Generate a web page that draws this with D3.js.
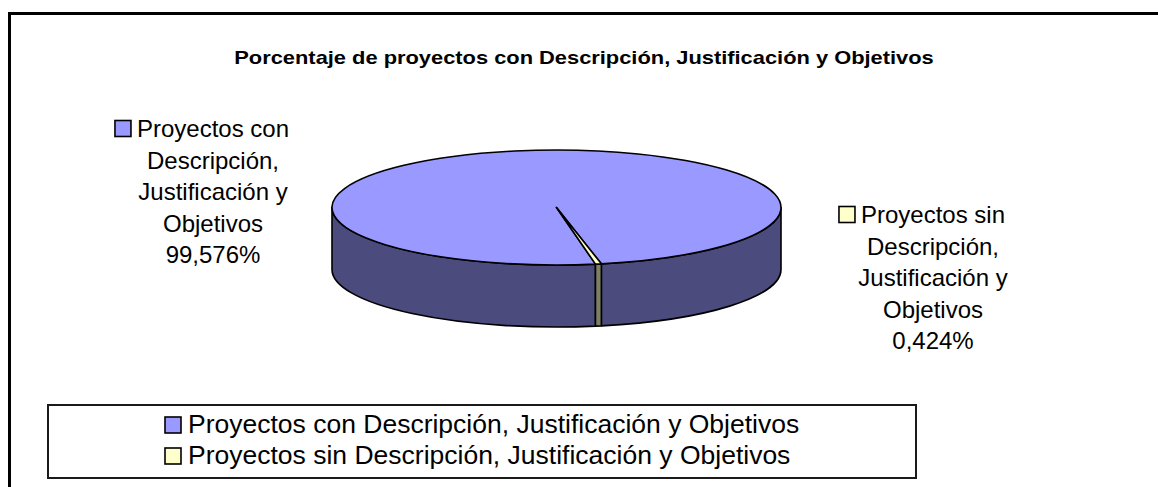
<!DOCTYPE html>
<html>
<head>
<meta charset="utf-8">
<script src="https://cdn.jsdelivr.net/npm/d3@7"></script>
<style>
  body { margin: 0; background: #fff; }
  text { font-family: "Liberation Sans", Arial, sans-serif; fill: #000; }
</style>
</head>
<body>
<div id="chart-area"></div>
<script>
// data
const categories = [
  "Proyectos con Descripción, Justificación y Objetivos",
  "Proyectos sin Descripción, Justificación y Objetivos"
]
const values = [99.576, 0.424]
const topColors = ["#9999FF", "#FFFFCC"]
const sideColors = ["#4b4b7e", "#7f7f66"]
const title = "Porcentaje de proyectos con Descripción, Justificación y Objetivos"

const WIDTH = 1158, HEIGHT = 487

const svg = d3.select("#chart-area").append("svg")
  .attr("width", WIDTH)
  .attr("height", HEIGHT)

// text in the original is drawn a little wider than its height suggests
function stretch(sel, factor) {
  sel.each(function () {
    const len = this.getComputedTextLength()
    d3.select(this)
      .attr("textLength", len * factor)
      .attr("lengthAdjust", "spacingAndGlyphs")
  })
}

// outer frame (right and bottom sides fall outside the picture)
svg.append("rect")
  .attr("x", 9.5).attr("y", 13.5)
  .attr("width", 1300).attr("height", 600)
  .attr("fill", "#fff")
  .attr("stroke", "#000")
  .attr("stroke-width", 3)

svg.append("text")
  .attr("x", 584)
  .attr("y", 64)
  .attr("text-anchor", "middle")
  .attr("font-size", "19px")
  .attr("font-weight", "bold")
  .text(title)
  .call(stretch, 1.15)

// 3D pie geometry
const PIE = { cx: 556.5, cy: 207.5, rx: 224.5, ry: 57.5, depth: 62 }
const rotation = 170 * Math.PI / 180

const pie = d3.pie().sort(null)
  .startAngle(rotation)
  .endAngle(rotation + 2 * Math.PI)
const arcs = pie(values)

const px = a => PIE.cx + PIE.rx * Math.sin(a)
const py = (a, dz = 0) => PIE.cy - PIE.ry * Math.cos(a) + dz

function topPath(d) {
  const large = (d.endAngle - d.startAngle) > Math.PI ? 1 : 0
  return `M${PIE.cx},${PIE.cy}L${px(d.startAngle)},${py(d.startAngle)}` +
    `A${PIE.rx},${PIE.ry} 0 ${large} 1 ${px(d.endAngle)},${py(d.endAngle)}Z`
}

// front wall pieces: parts of each slice between 90deg and 270deg
function wallPieces(d) {
  const out = []
  for (let k = -1; k <= 2; k++) {
    const lo = Math.PI / 2 + k * 2 * Math.PI
    const hi = 3 * Math.PI / 2 + k * 2 * Math.PI
    const a = Math.max(d.startAngle, lo), b = Math.min(d.endAngle, hi)
    if (b > a) out.push({ a, b, i: d.index })
  }
  return out
}
function wallPath(w) {
  const h = PIE.depth
  return `M${px(w.a)},${py(w.a)}A${PIE.rx},${PIE.ry} 0 0 1 ${px(w.b)},${py(w.b)}` +
    `L${px(w.b)},${py(w.b, h)}A${PIE.rx},${PIE.ry} 0 0 0 ${px(w.a)},${py(w.a, h)}Z`
}

const g = svg.append("g")

g.selectAll("path.wall")
  .data(arcs.flatMap(wallPieces))
  .join("path")
  .attr("class", "wall")
  .attr("d", wallPath)
  .attr("fill", d => sideColors[d.i])
  .attr("stroke", "#000")
  .attr("stroke-width", 1.6)
  .attr("stroke-linejoin", "round")

g.selectAll("path.top")
  .data(arcs)
  .join("path")
  .attr("class", "top")
  .attr("d", topPath)
  .attr("fill", (d, i) => topColors[i])
  .attr("stroke", "#000")
  .attr("stroke-width", 1.6)
  .attr("stroke-linejoin", "round")

// data labels
const fmt = v => d3.format(".3f")(v).replace(".", ",") + "%"
const labelPos = [{ x: 213, y: 137 }, { x: 933, y: 223 }]
const LABEL_FS = 24, LINE_H = 31.5, KEY = 16, KEY_GAP = 6

function wrap(str, maxW, measure) {
  const words = str.split(" ")
  const lines = []
  let cur = ""
  words.forEach(w => {
    const t = cur ? cur + " " + w : w
    if (cur && measure(t) > maxW) { lines.push(cur); cur = w } else cur = t
  })
  if (cur) lines.push(cur)
  return lines
}

const probe = svg.append("text").attr("font-size", LABEL_FS + "px")
const measure = s => { probe.text(s); return probe.node().getComputedTextLength() }

categories.forEach((c, i) => {
  const lines = wrap(c, 162, measure).concat([fmt(values[i])])
  const lg = svg.append("g").attr("class", "label")
  lines.forEach((ln, j) => {
    const y = labelPos[i].y + j * LINE_H
    lg.append("text")
      .attr("x", labelPos[i].x).attr("y", y)
      .attr("text-anchor", "middle")
      .attr("font-size", LABEL_FS + "px")
      .text(ln)
    if (j === 0) {
      const x0 = labelPos[i].x - measure(ln) / 2 - KEY_GAP - KEY
      lg.append("rect")
        .attr("x", x0).attr("y", y - KEY - 0.5)
        .attr("width", KEY).attr("height", KEY)
        .attr("fill", topColors[i])
        .attr("stroke", "#000").attr("stroke-width", 1.6)
    }
  })
})
probe.remove()

// legend
const legend = svg.append("g").attr("class", "legend")
legend.append("rect")
  .attr("x", 48).attr("y", 405)
  .attr("width", 868).attr("height", 73)
  .attr("fill", "#fff")
  .attr("stroke", "#1a1a1a")
  .attr("stroke-width", 2)

const items = legend.selectAll("g.item")
  .data(categories)
  .join("g")
  .attr("class", "item")
  .attr("transform", (d, i) => `translate(165, ${433 + i * 31})`)
items.append("rect")
  .attr("x", 0).attr("y", -16)
  .attr("width", 16).attr("height", 16)
  .attr("fill", (d, i) => topColors[i])
  .attr("stroke", "#000").attr("stroke-width", 1.6)
items.append("text")
  .attr("x", 23).attr("y", 0)
  .attr("font-size", "25px")
  .text(d => d)
  .call(stretch, 1.06)
</script>
</body>
</html>
